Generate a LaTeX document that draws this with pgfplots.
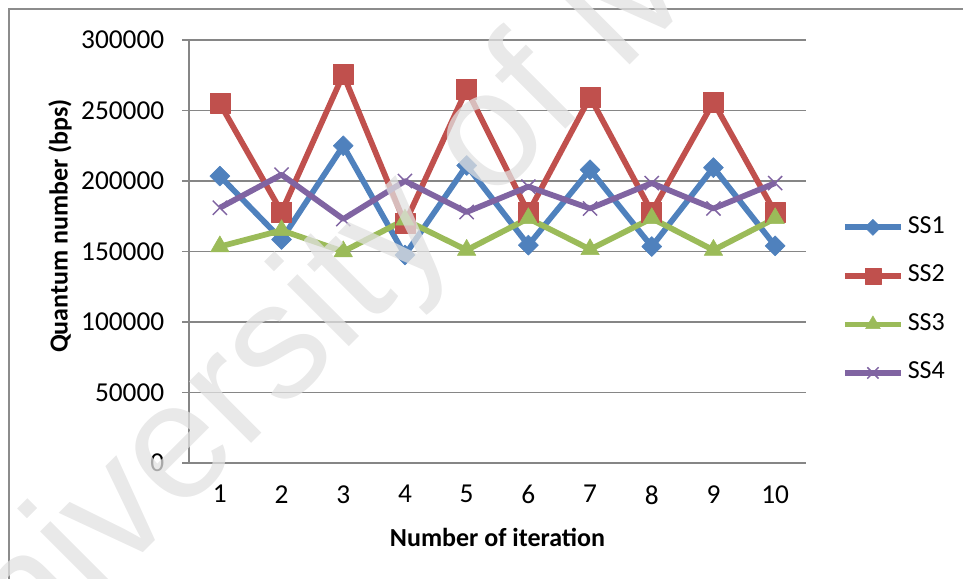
\documentclass[border=0pt]{standalone}
\usepackage{fontspec}
\setmainfont{Carlito}
\newfontfamily\wmfont{Liberation Sans}
\usepackage{pgfplots}
\pgfplotsset{compat=1.18}

\definecolor{ssblue}{RGB}{79,129,189}
\definecolor{ssred}{RGB}{192,80,77}
\definecolor{ssgreen}{RGB}{155,187,89}
\definecolor{sspurple}{RGB}{128,100,162}
\definecolor{gridgray}{RGB}{134,134,134}
\definecolor{framegray}{RGB}{140,140,140}
\definecolor{wmgray}{RGB}{225,225,225}

\newcommand{\chartfont}{\fontsize{19.5}{23}\selectfont}
\newcommand{\tickfont}{\fontsize{20.5}{24}\selectfont}

\begin{document}
\begin{tikzpicture}
  % page area and chart frame
  \useasboundingbox (0,0) rectangle (722.25pt,433.5pt);
  \draw[framegray, line width=0.9pt] (6.75pt,-20pt) -- (6.75pt,426.75pt) -- (760pt,426.75pt);

  \begin{axis}[
    at={(141.75pt,86.25pt)}, anchor=south west,
    scale only axis, width=462.75pt, height=317.25pt,
    xmin=0.5, xmax=10.5, ymin=0, ymax=300000,
    xtick={1,...,10},
    ytick={0,50000,...,300000},
    axis x line*=bottom, axis y line*=left,
    axis line style={gridgray, line width=1.1pt},
    ymajorgrids,
    major grid style={gridgray, line width=1.1pt},
    tick align=outside,
    major tick length=5.25pt,
    xtick style={draw=none},
    ytick style={gridgray, line width=1.1pt},
    scaled y ticks=false,
    /pgf/number format/assume math mode=true,
    yticklabel style={/pgf/number format/fixed, /pgf/number format/1000 sep={}},
    tick label style={font=\tickfont, text=black},
    xticklabel style={yshift=-8pt},
    yticklabel style={xshift=-9.75pt},
    xlabel={Number of iteration},
    ylabel={Quantum number (bps)},
    label style={font=\chartfont\bfseries},
    xlabel style={at={(rel axis cs:0.5,-0.175)}, anchor=center},
    ylabel style={at={(rel axis cs:-0.209,0.5603)}, anchor=center},
    clip=false,
    legend cell align=left,
    legend style={
      at={(rel axis cs:1.058,0.385)}, anchor=west,
      draw=none, fill=none, inner sep=0pt,
      font=\chartfont, row sep=12.4pt,
      nodes={inner sep=0pt, text height=13pt, text depth=4pt},
      /tikz/every odd column/.append style={column sep=3pt},
    },
    legend image code/.code={
      \path[draw=none, fill=none] (0pt,-12pt) rectangle (42pt,12pt);
      \draw[mark repeat=2, mark phase=2, #1, every mark/.append style={scale=0.8}]
        plot coordinates {(0pt,0pt) (21pt,0pt) (42pt,0pt)};
    },
    every axis plot/.append style={line width=4.3pt, line join=round},
  ]
    \addplot[ssblue, mark=square*, mark size=5.3pt,
             mark options={rotate=45, line width=0.4pt}]
      coordinates {(1,203500) (2,158500) (3,225000) (4,147500) (5,211000)
                   (6,154500) (7,208000) (8,153500) (9,209500) (10,154000)};
    \addlegendentry{SS1}
    \addplot[ssred, mark=square*, mark size=7.5pt,
             mark options={line width=0.4pt}]
      coordinates {(1,255000) (2,178000) (3,275500) (4,170000) (5,265000)
                   (6,177500) (7,259500) (8,178000) (9,256000) (10,177500)};
    \addlegendentry{SS2}
    \addplot[ssgreen, mark=triangle*, mark size=8pt,
             mark options={line width=0.4pt}]
      coordinates {(1,153500) (2,165000) (3,150000) (4,172500) (5,151000)
                   (6,173500) (7,151500) (8,173500) (9,151000) (10,173500)};
    \addlegendentry{SS3}
    \addplot[sspurple, mark=x, mark size=7.5pt,
             mark options={line width=1.1pt}]
      coordinates {(1,181000) (2,204500) (3,173000) (4,200000) (5,178000)
                   (6,196000) (7,180500) (8,198500) (9,180500) (10,198500)};
    \addlegendentry{SS4}
  \end{axis}

  % watermark across the chart
  \begin{scope}
    \clip (0,0) rectangle (722.25pt,433.5pt);
    \node[text=wmgray, opacity=0.75, rotate=45, anchor=center, inner sep=0pt,
          font=\wmfont\fontsize{124}{130}\selectfont]
      at (330.75pt,288pt) {University of Malaya};
  \end{scope}
\end{tikzpicture}
\end{document}
